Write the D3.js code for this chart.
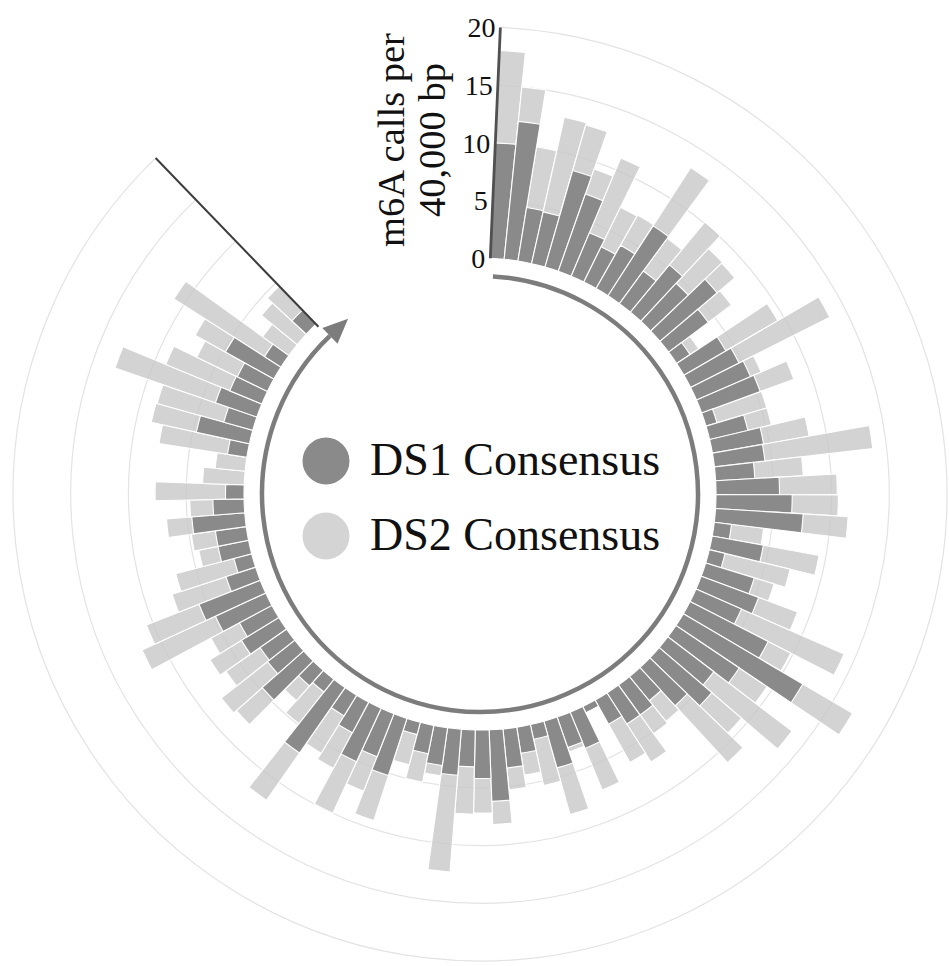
<!DOCTYPE html>
<html>
<head>
<meta charset="utf-8">
<script src="https://cdn.jsdelivr.net/npm/d3@7"></script>
<style>
  html, body { margin: 0; padding: 0; background: #fff; }
  svg { display: block; }
  text { font-family: "Liberation Serif", "Times New Roman", serif; fill: #111; }
</style>
</head>
<body>
<svg id="chart" width="949" height="966"></svg>
<script>
// m6A calls per 40,000 bp bin, clockwise from the origin of the genome
const ds1 = [10, 12, 4.7, 4.6, 8.7, 7.1, 4.1, 3.4, 4.3, 7.2,
  3.5, 5.3, 4.5, 6.5, 4.3, 1.4, 4.2, 4.7, 5.1, 5.4,
  1.0, 3.4, 4.5, 4.4, 3.4, 5.5, 6.6, 7.6, 1.5, 4.5,
  1.4, 4.4, 5.3, 4.3, 7.6, 12, 6.6, 5.0, 6.0, 4.5,
  2.7, 3.2, 3.2, 2.4, 0.6, 3.4, 2.8, 4.2, 1.3, 2.3,
  3.4, 6.2, 4.2, 3.2, 4.0, 3.3, 2.5, 1.1, 5.2, 4.0,
  5.1, 3.0, 2.1, 6.9, 1.4, 1.8, 4.8, 3.0, 2.8, 3.8,
  3.2, 4.8, 5.7, 2.7, 1.6, 2.7, 2.7, 4.6, 2.7, 1.6,
  0, 0, 1.7, 4.7, 2.6, 3.8, 3.0, 2.9, 4.8, 1.7,
  0, 0, 1.7];
const ds2 = [18, 15, 10, 13, 12.8, 9.4, 11.1, 7.2, 7.3, 13.2,
  7, 10.1, 8.6, 8.5, 6.8, 2.3, 9.4, 13.5, 6.1, 8.5,
  5.5, 5.5, 8.5, 13.8, 7.6, 10.5, 10.6, 11.5, 4.3, 9.4,
  7.2, 6.2, 8.9, 14, 9.8, 17, 9.5, 13.5, 9.4, 11.2,
  5.0, 5.2, 7.1, 6.2, 0, 7.3, 3.2, 8.4, 5.4, 4.2,
  5.3, 8.2, 7.2, 7.3, 12.4, 4.2, 5.0, 3.8, 9.3, 7.2,
  10.0, 6.5, 5.9, 11.9, 4.9, 3.5, 7.8, 8.1, 6.4, 7.0,
  6.0, 11.8, 10.6, 7.6, 6.8, 4.4, 4.8, 6.8, 4.7, 7.7,
  3.6, 2.6, 7.7, 8.7, 8.6, 13, 9.0, 6.8, 7.8, 11,
  2.8, 4.0, 4.6];
const yTicks = [0, 5, 10, 15, 20];
const seriesNames = ["DS1 Consensus", "DS2 Consensus"];
const seriesColors = ["#8a8a8a", "#d4d4d4"];
const axisTitle = ["m6A calls per", "40,000 bp"];

const cx = 480, cy = 494;
const deg = Math.PI / 180;
const startAngle = 2.5 * deg, endAngle = 316 * deg;
const innerR = 236, outerR = 467;

const svg = d3.select("#chart");
const g = svg.append("g").attr("transform", `translate(${cx},${cy})`);

const x = d3.scaleBand()
  .domain(d3.range(ds1.length))
  .range([startAngle, endAngle])
  .padding(0);

const y = d3.scaleLinear().domain([0, 20]).range([innerR, outerR]);

// faint grid rings
const ringArc = d3.arc()
  .innerRadius(d => y(d))
  .outerRadius(d => y(d))
  .startAngle(startAngle)
  .endAngle(endAngle);
g.append("g").selectAll("path")
  .data(yTicks.slice(1))
  .join("path")
  .attr("d", ringArc)
  .attr("fill", "none")
  .attr("stroke", "#e3e3e3")
  .attr("stroke-width", 1.2);

const barArc = d3.arc()
  .innerRadius(y(0))
  .outerRadius(d => y(d.v))
  .startAngle(d => x(d.i))
  .endAngle(d => x(d.i) + x.bandwidth());

// DS2 underneath, DS1 on top
g.append("g").selectAll("path")
  .data(ds2.map((v, i) => ({ i, v })).filter(d => d.v > 0))
  .join("path")
  .attr("d", barArc)
  .attr("fill", "#c6c6c6")
  .attr("fill-opacity", 0.78)
  .attr("stroke", "#fff")
  .attr("stroke-width", 1.1);

g.append("g").selectAll("path")
  .data(ds1.map((v, i) => ({ i, v })).filter(d => d.v > 0))
  .join("path")
  .attr("d", barArc)
  .attr("fill", seriesColors[0])
  .attr("stroke", "#fff")
  .attr("stroke-width", 1.1);

// inner direction arc with arrowhead
const dirR = 218;
const dirStart = 3.4 * deg, dirEnd = 316.5 * deg;
g.append("path")
  .attr("d", d3.arc().innerRadius(dirR).outerRadius(dirR).startAngle(dirStart).endAngle(dirEnd)())
  .attr("fill", "none")
  .attr("stroke", "#7c7c7c")
  .attr("stroke-width", 4.5);
{
  const px = dirR * Math.sin(dirEnd), py = -dirR * Math.cos(dirEnd);
  const tx = Math.cos(dirEnd), ty = Math.sin(dirEnd);   // tangent, clockwise
  const nx = -ty, ny = tx;
  const L = 25, W = 11;
  const tip = [px + tx * L, py + ty * L];
  const b1 = [px + nx * W, py + ny * W];
  const b2 = [px - nx * W, py - ny * W];
  g.append("path")
    .attr("d", `M${tip}L${b1}L${b2}Z`)
    .attr("fill", "#7c7c7c");
}

// radial marker at the end of the bins
g.append("line")
  .attr("x1", y(-0.3) * Math.sin(endAngle)).attr("y1", -y(-0.3) * Math.cos(endAngle))
  .attr("x2", y(20) * Math.sin(endAngle)).attr("y2", -y(20) * Math.cos(endAngle))
  .attr("stroke", "#3c3c3c")
  .attr("stroke-width", 2);

// value axis along the start edge
const axisG = g.append("g");
axisG.append("line")
  .attr("x1", y(0) * Math.sin(startAngle)).attr("y1", -y(0) * Math.cos(startAngle))
  .attr("x2", y(20) * Math.sin(startAngle)).attr("y2", -y(20) * Math.cos(startAngle))
  .attr("stroke", "#505050")
  .attr("stroke-width", 2.8);
axisG.selectAll("text")
  .data(yTicks)
  .join("text")
  .attr("x", d => y(d) * Math.sin(startAngle) - 5)
  .attr("y", d => -y(d) * Math.cos(startAngle))
  .attr("dy", "0.35em")
  .attr("text-anchor", "end")
  .attr("font-size", 28)
  .text(d => d);

// axis title, rotated
const titleG = svg.append("g").attr("transform", `translate(0,140) rotate(-90)`);
titleG.selectAll("text")
  .data(axisTitle)
  .join("text")
  .attr("x", 0)
  .attr("y", (d, i) => 404 + i * 41)
  .attr("text-anchor", "middle")
  .attr("font-size", 38.5)
  .text(d => d);

// legend
const legend = svg.append("g");
seriesNames.forEach((name, i) => {
  const ly = 461 + i * 75;
  legend.append("circle")
    .attr("cx", 326).attr("cy", ly).attr("r", 23.5)
    .attr("fill", seriesColors[i]);
  legend.append("text")
    .attr("x", 370).attr("y", ly + 14)
    .attr("font-size", 46)
    .text(name);
});
</script>
</body>
</html>
